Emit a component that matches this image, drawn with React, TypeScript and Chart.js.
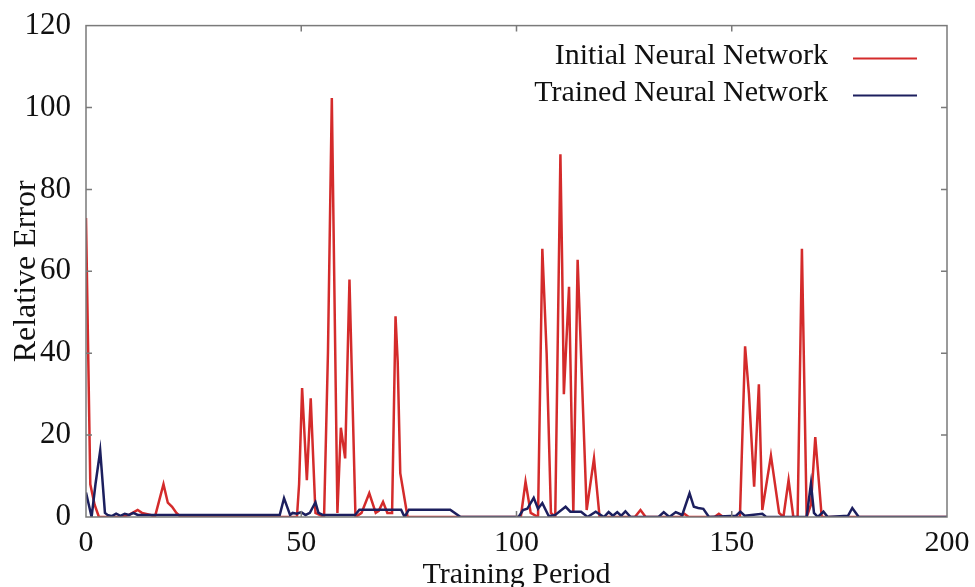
import React, { useEffect, useRef } from "react";
import { Chart, registerables } from "chart.js";

Chart.register(...registerables);

const xTicks = [0, 50, 100, 150, 200];
const yTicks = [0, 20, 40, 60, 80, 100, 120];

const seriesNames = ["Initial Neural Network", "Trained Neural Network"];

const initialX = [0, 1, 2, 3, 8, 10, 12, 13, 15, 16, 17, 18, 19, 20, 21, 22, 49, 49.5, 50.2, 51.3, 52.2, 53.3, 55.3, 56.2, 57.1, 58.4, 59.2, 60.2, 61.2, 62.6, 64, 65.8, 67.3, 68, 69, 70, 71.1, 71.9, 72.4, 73, 74.7, 101, 102.1, 103.3, 105, 106, 107, 108, 109, 110.2, 110.6, 111, 112.2, 113.2, 114.2, 116.3, 118, 119.3, 127.5, 128.8, 130, 138, 139, 140, 146, 147, 148, 151.9, 153.1, 154, 155.2, 156.3, 157.1, 159.1, 161, 162, 163.2, 164.3, 165.3, 166.3, 167.4, 168.4, 169.4, 170.9, 200];
const initialY = [73, 8, 3, 0, 0, 0.5, 1.7, 1, 0.5, 0, 4, 8, 3.5, 2.5, 1, 0, 0, 8, 31.5, 9, 29, 1, 0, 40, 102.3, 1, 21.8, 14.3, 58, 0, 1, 5.8, 1, 1.5, 3.7, 1, 1, 49, 38, 10.7, 0, 0, 8.6, 1, 0, 65.5, 40, 1, 0, 88.6, 62, 30, 56.2, 1, 62.8, 1.7, 14.3, 0, 0, 1.7, 0, 0, 0.8, 0, 0, 0.8, 0, 0, 41.7, 30, 7.4, 32.4, 1.7, 15, 1, 0, 9, 0, 0, 65.5, 0, 3, 19.5, 0, 0];

const trainedX = [0, 1.3, 2.2, 3.3, 4.4, 5, 6, 7, 8, 9, 10, 11, 12, 45, 46, 47.4, 48, 49, 50, 51, 52, 53.3, 54, 55, 62.5, 63.5, 73.2, 74, 75, 84.6, 87, 100.5, 101.5, 102.5, 104, 105, 106, 107.5, 109, 111.4, 112.5, 115, 116.5, 118.4, 120.3, 121.4, 122.4, 123.4, 124.3, 125.3, 126.5, 133, 134.2, 135.5, 137, 138.5, 140.2, 141.2, 142.2, 143.4, 144.7, 151, 152, 153, 157.1, 158, 167.4, 168.4, 169.1, 170, 171.3, 172.3, 177, 178, 179.5, 200];
const trainedY = [6, 0, 8, 16.2, 1, 0.5, 0.2, 0.8, 0.3, 0.8, 0.5, 1, 0.5, 0.5, 4.6, 0.5, 1, 0.8, 1.2, 0.5, 1, 3.6, 1, 0.5, 0.5, 1.8, 1.8, 0, 1.8, 1.8, 0, 0, 1.7, 2, 4.7, 2, 3.4, 0.2, 0.5, 2.5, 1.3, 1.3, 0, 1.3, 0, 1.2, 0.3, 1.2, 0.3, 1.4, 0, 0, 1.2, 0, 1.2, 0.5, 5.8, 2.5, 2.2, 2, 0, 0.3, 1.3, 0.3, 0.8, 0, 0, 8.2, 1, 0, 1.3, 0, 0.3, 2.2, 0, 0];

const RED = "#d42b2b";
const BLUE = "#1c1f5e";
const FONT = "'Liberation Serif', 'Times New Roman', serif";

const framePlugin = {
  id: "frameAndLegend",
  afterDraw(chart: any) {
    const { ctx, chartArea } = chart;
    const { left, right, top, bottom } = chartArea;
    const xs = chart.scales.x;
    const ys = chart.scales.y;
    ctx.save();
    ctx.strokeStyle = "#7a7a7a";
    ctx.lineWidth = 1.5;
    ctx.strokeRect(left, top, right - left, bottom - top);
    const tl = 6;
    ctx.beginPath();
    xTicks.slice(1, -1).forEach((v) => {
      const px = xs.getPixelForValue(v);
      ctx.moveTo(px, top);
      ctx.lineTo(px, top + tl);
      ctx.moveTo(px, bottom);
      ctx.lineTo(px, bottom - tl);
    });
    yTicks.slice(1, -1).forEach((v) => {
      const py = ys.getPixelForValue(v);
      ctx.moveTo(left, py);
      ctx.lineTo(left + tl, py);
      ctx.moveTo(right, py);
      ctx.lineTo(right - tl, py);
    });
    ctx.stroke();

    // legend
    ctx.font = "30px " + FONT;
    ctx.fillStyle = "#111";
    ctx.textAlign = "right";
    ctx.textBaseline = "middle";
    const ds = chart.data.datasets;
    const rows = [ds[1], ds[0]];
    const textRight = right - 119;
    rows.forEach((d: any, i: number) => {
      const y = top + 31 + i * 37;
      ctx.fillText(d.label, textRight, y);
      ctx.strokeStyle = d.borderColor;
      ctx.lineWidth = 2;
      ctx.beginPath();
      ctx.moveTo(right - 94, y + 2);
      ctx.lineTo(right - 30, y + 2);
      ctx.stroke();
    });
    ctx.restore();
  },
};

export default function App() {
  const ref = useRef<HTMLCanvasElement>(null);
  useEffect(() => {
    if (!ref.current) return;
    const chart = new Chart(ref.current, {
      type: "line",
      data: {
        datasets: [
          {
            label: seriesNames[1],
            data: trainedX.map((x, i) => ({ x, y: trainedY[i] })),
            borderColor: BLUE,
            borderWidth: 2.5,
            pointRadius: 0,
            tension: 0,
            order: 0,
          },
          {
            label: seriesNames[0],
            data: initialX.map((x, i) => ({ x, y: initialY[i] })),
            borderColor: RED,
            borderWidth: 2.5,
            pointRadius: 0,
            tension: 0,
            order: 1,
          },
        ],
      },
      options: {
        animation: false,
        responsive: false,
        devicePixelRatio: 1,
        layout: { padding: { top: 22, right: 28, left: 0, bottom: 0 } },
        plugins: { legend: { display: false }, tooltip: { enabled: false } },
        scales: {
          x: {
            type: "linear",
            min: 0,
            max: 200,
            afterBuildTicks: (s: any) => {
              s.ticks = xTicks.map((v) => ({ value: v }));
            },
            afterFit: (s: any) => {
              s.height = 83;
            },
            ticks: { font: { family: FONT, size: 30 }, color: "#111", padding: 0, maxRotation: 0 },
            grid: { display: false },
            border: { display: false },
            title: {
              display: true,
              text: "Training Period",
              font: { family: FONT, size: 30 },
              color: "#111",
              padding: { top: 0, bottom: 7 },
            },
          },
          y: {
            min: 0,
            max: 120,
            afterBuildTicks: (s: any) => {
              s.ticks = yTicks.map((v) => ({ value: v }));
            },
            afterFit: (s: any) => {
              s.width = 86;
            },
            ticks: { font: { family: FONT, size: 31 }, color: "#111", padding: 7 },
            grid: { display: false },
            border: { display: false },
            title: {
              display: true,
              text: "Relative Error",
              font: { family: FONT, size: 32 },
              color: "#111",
              padding: { top: 7, bottom: 0 },
            },
          },
        },
      },
      plugins: [framePlugin],
    });
    return () => chart.destroy();
  }, []);
  return (
    <div style={{ position: "fixed", left: 0, top: 0, width: 975, height: 600 }}>
      <canvas ref={ref} width={975} height={600} style={{ width: 975, height: 600 }} />
    </div>
  );
}
